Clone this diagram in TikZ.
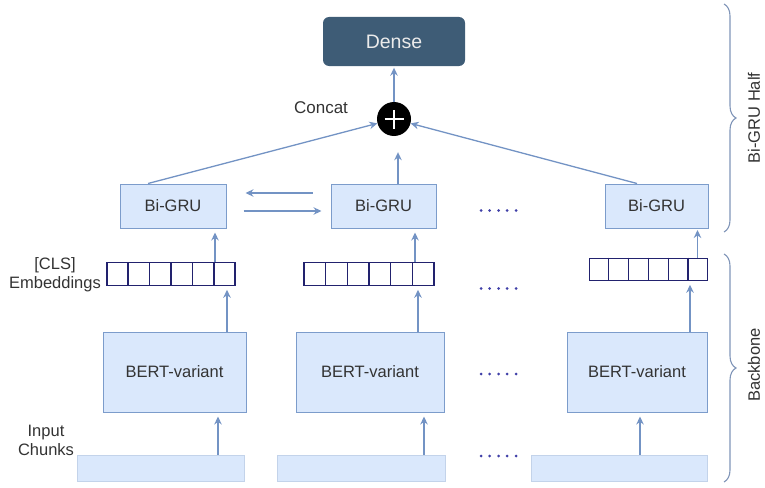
\documentclass[tikz,border=0pt]{standalone}
\usepackage{fontspec}
\setmainfont{Liberation Sans}
\usetikzlibrary{arrows.meta,calc,decorations.pathreplacing}
\definecolor{boxfill}{HTML}{DAE8FC}
\definecolor{boxline}{HTML}{7C9CCB}
\definecolor{inline}{HTML}{C3D3EA}
\definecolor{arrc}{HTML}{7393C4}
\definecolor{densec}{HTML}{3E5C76}
\definecolor{cellc}{HTML}{22226E}
\definecolor{dotc}{HTML}{4040A8}
\definecolor{bracec}{HTML}{8095B8}
\definecolor{txt}{HTML}{333333}
\begin{document}
\begin{tikzpicture}[x=1pt,y=-1pt,
  font=\fontsize{16.5}{19}\selectfont, text=txt,
  block/.style={draw=boxline, fill=boxfill, line width=1pt, inner sep=0pt},
  chunk/.style={draw=inline, fill=boxfill, line width=1pt, inner sep=0pt},
  embbox/.style={draw=cellc, fill=white, line width=1.1pt, inner sep=0pt},
  arr/.style={draw=arrc, line width=1.3pt, -{Stealth[length=8pt,width=7.5pt]}},
  lbl/.style={align=center, inner sep=0pt},
  bracestyle/.style={draw=bracec, line width=1.1pt, decorate,
     decoration={brace, amplitude=12pt}},
]
\useasboundingbox (0,0) rectangle (765,487);

% output head
\node[fill=densec, rounded corners=6pt, minimum width=142pt, minimum height=49pt,
      inner sep=0pt, text=white!92!black, font=\fontsize{19.5}{22}\selectfont]
      (dense) at (394,41.5) {Dense};
\node[circle, fill=black, minimum size=34pt, inner sep=0pt] (plus) at (394,119) {};
\draw[white, line width=2.6pt] ([xshift=-9.5pt]plus.center) -- ([xshift=9.5pt]plus.center);
\draw[white, line width=2.6pt] ([yshift=-9.5pt]plus.center) -- ([yshift=9.5pt]plus.center);
\node[lbl, font=\fontsize{17}{20}\selectfont] (concat) at (321,108) {Concat};

% Bi-GRU layer
\node[block, minimum width=106pt, minimum height=44pt] (gru1) at (173,206) {Bi-GRU};
\node[block, minimum width=105pt, minimum height=44pt] (gru2) at (383.5,206) {Bi-GRU};
\node[block, minimum width=103pt, minimum height=44pt] (gru3) at (656.5,206) {Bi-GRU};

% [CLS] embeddings (six cells each)
\node[embbox, minimum width=128pt, minimum height=22.5pt] (emb1) at (171,274) {};
\node[embbox, minimum width=130pt, minimum height=22.5pt] (emb2) at (369,274) {};
\node[embbox, minimum width=118pt, minimum height=22pt] (emb3) at (648.3,269.2) {};
\foreach \e in {emb1,emb2,emb3}{
  \foreach \k in {1,...,5}{
    \draw[cellc, line width=1.1pt]
      ($(\e.north west)!\k/6!(\e.north east)$) -- ($(\e.south west)!\k/6!(\e.south east)$);
  }
}
\node[lbl] (clslbl) at (55,275) {[CLS]\\Embeddings};

% BERT backbones
\node[block, minimum width=143pt, minimum height=80pt] (bert1) at (174.5,372) {BERT-variant};
\node[block, minimum width=148pt, minimum height=80pt] (bert2) at (370,372) {BERT-variant};
\node[block, minimum width=140pt, minimum height=80pt] (bert3) at (637,372) {BERT-variant};

% input chunks
\node[chunk, minimum width=167pt, minimum height=26.5pt] (in1) at (160.5,468.3) {};
\node[chunk, minimum width=168pt, minimum height=26.5pt] (in2) at (361.5,468.3) {};
\node[chunk, minimum width=176pt, minimum height=26.5pt] (in3) at (619.5,468.3) {};
\node[lbl] (inlbl) at (46,440) {Input\\Chunks};

% chunk -> BERT
\draw[arr, shorten >=4pt] (218,0 |- in1.north) -- (218,0 |- bert1.south);
\draw[arr, shorten >=4pt] (424,0 |- in2.north) -- (424,0 |- bert2.south);
\draw[arr, shorten >=4pt] (640,0 |- in3.north) -- (640,0 |- bert3.south);

% BERT -> embedding
\draw[arr, shorten >=4pt] (227,0 |- bert1.north) -- (227,0 |- emb1.south);
\draw[arr, shorten >=4pt] (418,0 |- bert2.north) -- (418,0 |- emb2.south);
\draw[arr, shorten >=4pt] (690,0 |- bert3.north) -- (690,0 |- emb3.south);

% embedding -> Bi-GRU
\draw[arr, shorten >=4pt] (215,0 |- emb1.north) -- (215,0 |- gru1.south);
\draw[arr, shorten >=4pt] (415,0 |- emb2.north) -- (415,0 |- gru2.south);
\draw[arr, shorten >=1.5pt] (697.5,0 |- emb3.north) -- (697.5,0 |- gru3.south);

% recurrence between GRU blocks
\draw[arr] ($(gru2.west)+(-18,-13)$) -- ($(gru1.east)+(19,-13)$);
\draw[arr] ($(gru1.east)+(17,5)$) -- ($(gru2.west)+(-9,5)$);

% Bi-GRU -> concat -> dense
\draw[arr] (148,0 |- gru1.north) -- (plus);
\draw[arr] (637,0 |- gru3.north) -- (plus);
\draw[arr, shorten >=16pt] (398,0 |- gru2.north) -- (398,0 |- plus.south);
\draw[arr, shorten >=1.5pt] (plus.north) -- (dense.south);

% ellipses between columns
\foreach \yy in {210.5,288.5,374,456}{
  \foreach \xx in {481,489.5,498.5,507,516}{
    \fill[dotc] (\xx,\yy) circle (1.5pt);
  }
}

% braces on the right
\coordinate (btop) at (724,4);
\coordinate (bmid) at (724,232);
\coordinate (ctop) at (724,254);
\coordinate (cbot) at (724,482);
\draw[bracestyle] (btop) -- (bmid);
\draw[bracestyle] (ctop) -- (cbot);
\node[rotate=90, inner sep=0pt] (halflbl) at (754,118) {Bi-GRU Half};
\node[rotate=90, inner sep=0pt] (backlbl) at (754,365) {Backbone};
\end{tikzpicture}
\end{document}
